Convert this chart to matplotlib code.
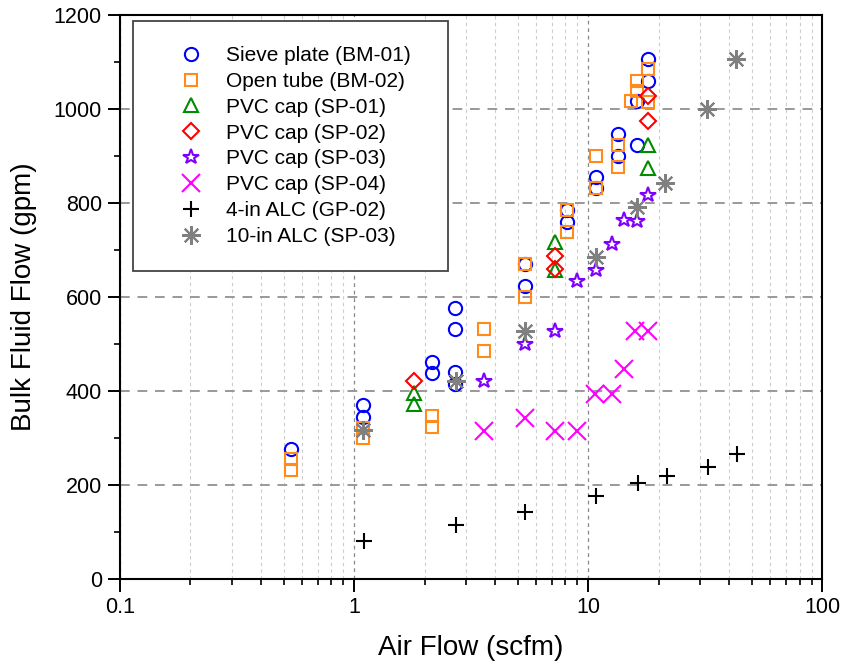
import matplotlib
matplotlib.use("Agg")
import matplotlib.pyplot as plt
import numpy as np
from matplotlib.ticker import MultipleLocator, LogLocator, FixedFormatter, FixedLocator

plt.rcParams['font.family'] = ['Liberation Sans', 'DejaVu Sans']

# Sieve plate (BM-01)
sieve_x = [0.54, 1.09, 1.09, 2.16, 2.16, 2.70, 2.70, 2.70, 2.70, 5.4, 5.4, 8.1, 8.1,
           10.8, 10.8, 13.4, 13.4, 16.1, 16.1, 18.0, 18.0]
sieve_y = [277, 369, 345, 462, 438, 577, 531, 439, 414, 670, 623, 785, 760,
           854, 831, 947, 899, 922, 1016, 1106, 1060]

# Open tube (BM-02)
tube_x = [0.54, 0.54, 1.09, 1.09, 2.16, 2.16, 3.6, 3.6, 5.4, 5.4, 8.1, 8.1,
          10.8, 10.8, 13.4, 13.4, 15.2, 16.1, 16.1, 18.0, 18.0]
tube_y = [255, 232, 322, 300, 347, 324, 531, 485, 670, 599, 785, 738,
          900, 831, 923, 877, 1016, 1037, 1060, 1084, 1014]

# PVC cap (SP-01)
sp01_x = [1.8, 1.8, 7.2, 7.2, 18.0, 18.0]
sp01_y = [395, 372, 716, 657, 923, 874]

# PVC cap (SP-02)
sp02_x = [1.8, 7.2, 7.2, 18.0, 18.0]
sp02_y = [421, 686, 659, 1028, 974]

# PVC cap (SP-03)
sp03_x = [3.6, 5.4, 7.2, 9.0, 10.8, 12.6, 14.3, 16.1, 18.0]
sp03_y = [421, 499, 528, 633, 657, 712, 764, 762, 817]

# PVC cap (SP-04)
sp04_x = [3.6, 5.4, 7.2, 9.0, 10.7, 12.6, 14.3, 15.9, 18.0]
sp04_y = [315, 342, 315, 315, 394, 394, 446, 528, 528]

# 4-in ALC (GP-02)
alc4_x = [1.1, 2.73, 5.4, 10.8, 16.3, 21.7, 32.4, 43.4]
alc4_y = [81, 114, 143, 177, 204, 219, 239, 265]

# 10-in ALC (SP-03)
alc10_x = [1.09, 2.73, 5.4, 10.8, 16.1, 21.3, 32.3, 42.9]
alc10_y = [317, 420, 528, 684, 792, 843, 1000, 1106]

fig = plt.figure(figsize=(8.42, 6.70), dpi=100)
ax = fig.add_axes([0.1425, 0.136, 0.834, 0.842])

ms = 9.5
mew = 1.5
ax.plot(sieve_x, sieve_y, 'o', ms=ms, mfc='none', mec='#0000FF', mew=mew, label='Sieve plate (BM-01)')
ax.plot(tube_x, tube_y, 's', ms=ms - 0.5, mfc='none', mec='#FF8C1A', mew=mew, label='Open tube (BM-02)')
ax.plot(sp01_x, sp01_y, '^', ms=ms + 1, mfc='none', mec='#008C00', mew=mew, label='PVC cap (SP-01)')
ax.plot(sp02_x, sp02_y, 'D', ms=ms - 1, mfc='none', mec='#FF0000', mew=mew, label='PVC cap (SP-02)')
ax.plot(sp03_x, sp03_y, '*', ms=ms + 2, mfc='none', mec='#7F00FF', mew=mew, label='PVC cap (SP-03)')
ax.plot(sp04_x, sp04_y, 'x', ms=ms + 3, color='#FF00FF', mew=mew, label='PVC cap (SP-04)')
ax.plot(alc4_x, alc4_y, '+', ms=ms + 2, color='black', mew=mew, label='4-in ALC (GP-02)')
ax.plot(alc10_x, alc10_y, marker=(8, 2, 0), ls='none', ms=ms + 4, color='#808080', mew=mew,
        label='10-in ALC (SP-03)')

ax.set_xscale('log')
ax.set_xlim(0.1, 100)
ax.set_ylim(0, 1200)
ax.xaxis.set_major_locator(FixedLocator([0.1, 1, 10, 100]))
ax.xaxis.set_major_formatter(FixedFormatter(['0.1', '1', '10', '100']))
ax.xaxis.set_minor_locator(LogLocator(base=10, subs=np.arange(2, 10)))
ax.yaxis.set_major_locator(MultipleLocator(200))
ax.yaxis.set_minor_locator(MultipleLocator(100))

ax.grid(True, axis='y', which='major', ls=(0, (5, 4)), color='#999999', lw=1.4)
ax.grid(True, axis='x', which='major', ls=(0, (3, 3)), color='#888888', lw=0.9)
ax.grid(True, axis='x', which='minor', ls=(0, (3, 3)), color='#cccccc', lw=0.8)
ax.set_axisbelow(True)

for s in ax.spines.values():
    s.set_linewidth(1.5)
ax.tick_params(which='major', direction='out', length=9, width=1.4, labelsize=15.5, pad=4)
ax.tick_params(which='minor', direction='out', length=4.5, width=1.2)

ax.set_xlabel('Air Flow (scfm)', fontsize=20, labelpad=12)
ax.set_ylabel('Bulk Fluid Flow (gpm)', fontsize=20, labelpad=12)

leg = ax.legend(loc='upper left', bbox_to_anchor=(0.0185, 0.56, 0.449, 0.429), mode='expand',
                fontsize=15, frameon=True, fancybox=False, edgecolor='#444444', framealpha=1,
                borderpad=1.2, labelspacing=0.33, handlelength=3.2, handletextpad=0.05,
                borderaxespad=0)
leg.get_frame().set_linewidth(1.3)

fig.savefig('out.png', dpi=100)
